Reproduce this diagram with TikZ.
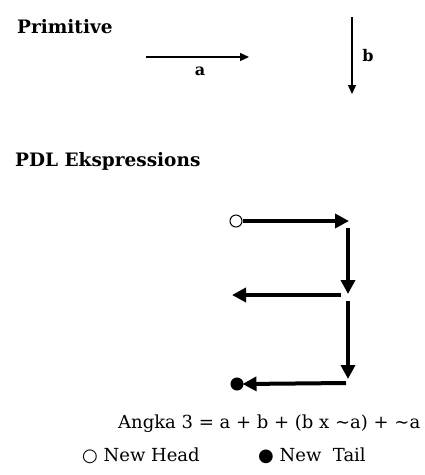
\documentclass[tikz,border=0pt]{standalone}
\usepackage{fontspec}
\setmainfont{DejaVu Serif}
\newfontfamily\symfont{DejaVu Sans}
\usetikzlibrary{arrows.meta}
\tikzset{
  heading/.style={font=\fontsize{18.5}{21}\selectfont\bfseries, inner sep=0pt},
  lbl/.style={font=\fontsize{16}{18}\selectfont\bfseries, inner sep=0pt},
  body/.style={font=\fontsize{18}{20}\selectfont, inner sep=0pt},
  thin/.style={line width=1.4pt, -{Triangle[length=9pt,width=8pt]}},
  thick/.style={line width=4pt, -{Triangle[length=14pt,width=14pt]}},
  endpt/.style={circle, draw, line width=1pt, minimum size=12pt, inner sep=0pt}
}
\begin{document}
\begin{tikzpicture}[x=1pt,y=-1pt]
\useasboundingbox (0,0) rectangle (425,475);
% headings
\node[heading, anchor=west] (prim) at (17,27) {Primitive};
\node[heading, anchor=west] (pdl) at (15,161) {PDL Ekspressions};
% primitives
\coordinate (a1) at (146,57);
\coordinate (a2) at (249,57);
\draw[thin] (a1) -- (a2);
\node[lbl] (alab) at (200,71) {a};
\coordinate (b1) at (352,17);
\coordinate (b2) at (352,94);
\draw[thin] (b1) -- (b2);
\node[lbl] (blab) at (368,56) {b};
% expression
\node[endpt, fill=white] (head) at (236,221) {};
\node[endpt, fill=black] (tail) at (237,384) {};
\coordinate (p1) at (349,221);
\coordinate (q1) at (348,228);
\coordinate (q2) at (348,294);
\coordinate (r1) at (341,295);
\coordinate (r2) at (232,295);
\coordinate (s1) at (348,301);
\coordinate (s2) at (348,379);
\coordinate (t1) at (346,383);
\draw[thick] (head.east) -- (p1);
\draw[thick] (q1) -- (q2);
\draw[thick] (r1) -- (r2);
\draw[thick] (s1) -- (s2);
\draw[thick, shorten >=-1pt] (t1) -- (tail.east);
% text
\node[body, anchor=west] (eq) at (118,424) {Angka 3 = a + b + (b x \char`\~a) + \char`\~a};
\node[body, anchor=west] (lh) at (82,456) {{\symfont ○} New Head};
\node[body, anchor=west] (lt) at (258,456) {{\symfont ●} New\ \ Tail};
\end{tikzpicture}
\end{document}
